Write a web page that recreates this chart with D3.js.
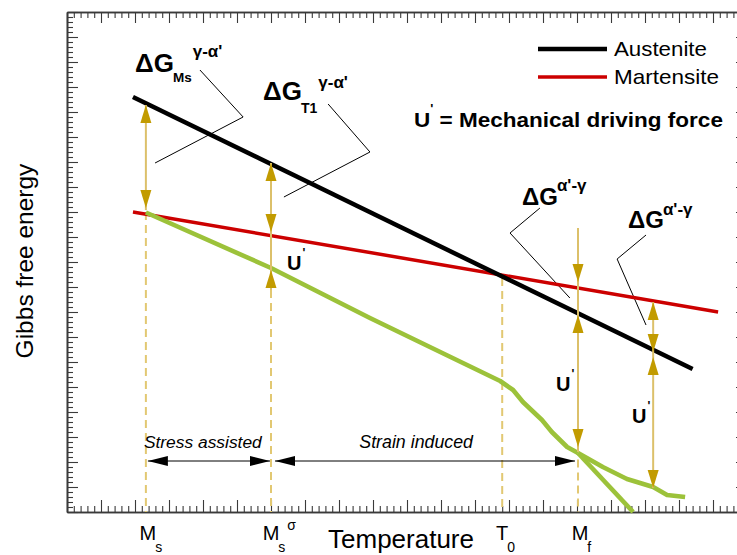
<!DOCTYPE html>
<html><head><meta charset="utf-8">
<script src="https://cdn.jsdelivr.net/npm/d3@7"></script>
<style>body{margin:0;background:#fff}svg{display:block;font-family:"Liberation Sans",Arial,Helvetica,sans-serif}</style>
</head><body><svg id="c" width="737" height="555"></svg>
<script>
// ---------- data (temperature units on x, energy units on y) ----------
const tempMarkers = [
  {main: "M", sub: "s", sup: "",  t: 2.32},
  {main: "M", sub: "s", sup: "σ", t: 6.0},
  {main: "T", sub: "0", sup: "",  t: 12.8},
  {main: "M", sub: "f", sup: "",  t: 15.03}
];
const dashTops = [12.0, 8.88, 9.36, 2.1];           // where each dashed marker starts
const austenite  = [[1.94, 16.6], [18.4, 5.72]];
const martensite = [[1.94, 12.0], [19.15, 8.0]];
const transformPath = [[2.32, 11.98], [6.0, 9.76], [8.91, 7.76], [12.74, 5.24], [13.12, 4.88],
                       [13.41, 4.4], [13.97, 3.68], [14.26, 3.2], [14.71, 2.6], [15.03, 2.36]];
const branchStraight = [[15.03, 2.36], [16.65, 0]];
const branchCurved   = [[15.03, 2.36], [15.76, 1.8], [16.47, 1.32], [17.24, 1.0], [17.65, 0.68], [18.18, 0.6]];
// gold driving-force arrows: x, shaft from/to, heads [tip, direction]
const goldArrows = [
  {t: 2.32,  from: 16.28, to: 12.08, heads: [[16.28, "up"], [12.16, "down"]]},
  {t: 6.0,   from: 13.96, to: 8.88,  heads: [[13.96, "up"], [11.2, "down"], [9.68, "up"]]},
  {t: 15.03, from: 11.36, to: 2.4,   heads: [[9.2, "down"], [7.88, "up"], [2.6, "down"]]},
  {t: 17.24, from: 8.4,   to: 0.96,  heads: [[8.4, "up"], [6.4, "down"], [6.2, "up"], [0.96, "down"]]}
];
const leaders = [
  [[3.91, 17.68], [5.18, 15.8], [2.59, 13.96]],
  [[7.68, 16.32], [8.91, 14.4], [6.38, 12.6]],
  [[13.91, 12.16], [13.03, 11.16], [14.79, 8.56]],
  [[17.03, 11.08], [16.18, 10.12], [17.03, 7.48]]
];
const rangeArrows = [
  {a: 2.32, b: 6.0,   label: "Stress assisted"},
  {a: 6.0,  b: 15.03, label: "Strain induced"}
];
const rangeLevel = 2.04;
const legendItems = [{name: "Austenite", color: "#000000"}, {name: "Martensite", color: "#cc0000"}];

// ---------- layout ----------
const svg = d3.select("#c");
const L = 67, R = 747, T = 12, B = 512;
const x = d3.scaleLinear().domain([0, 20]).range([L, R]);
const y = d3.scaleLinear().domain([0, 20]).range([B, T]);
const majors = d3.range(0, 21);
const minors = d3.range(0, 100).map(i => i / 5).filter(v => v % 1 !== 0);

const axisCol = "#3a3a3a";
function drawAxis(axisFn, scale, transform, majorLen, minorLen) {
  const gMin = svg.append("g").attr("transform", transform)
    .call(axisFn(scale).tickValues(minors).tickSize(-minorLen).tickSizeOuter(0).tickFormat(""));
  const gMaj = svg.append("g").attr("transform", transform)
    .call(axisFn(scale).tickValues(majors).tickSize(-majorLen).tickSizeOuter(0).tickFormat(""));
  [gMin, gMaj].forEach(g => {
    g.selectAll(".tick line").attr("stroke", axisCol).attr("stroke-width", 1.1);
    g.select(".domain").attr("stroke", axisCol).attr("stroke-width", 1.6);
  });
}
drawAxis(d3.axisBottom, x, `translate(0,${B})`, 12, 6);
drawAxis(d3.axisTop, x, `translate(0,${T})`, 11, 6);
drawAxis(d3.axisLeft, y, `translate(${L},0)`, 11, 6);
drawAxis(d3.axisRight, y, `translate(${R},0)`, 11, 6);

const line = d3.line().x(d => x(d[0])).y(d => y(d[1]));

// dashed markers
const dashCol = "#e2c872";
tempMarkers.forEach((m, i) => {
  svg.append("line").attr("x1", x(m.t)).attr("x2", x(m.t)).attr("y1", y(dashTops[i])).attr("y2", B)
    .attr("stroke", dashCol).attr("stroke-width", 2).attr("stroke-dasharray", "8,5");
});

// leader lines
leaders.forEach(pts => svg.append("path").attr("d", line(pts)).attr("fill", "none")
  .attr("stroke", "#000").attr("stroke-width", 1));

// curves
svg.append("path").attr("d", line(martensite)).attr("fill", "none").attr("stroke", "#cc0000").attr("stroke-width", 3.5);
svg.append("path").attr("d", line(austenite)).attr("fill", "none").attr("stroke", "#000").attr("stroke-width", 4.5);
[transformPath, branchStraight, branchCurved].forEach(p =>
  svg.append("path").attr("d", line(p)).attr("fill", "none").attr("stroke", "#9cc23a")
    .attr("stroke-width", 4.6).attr("stroke-linejoin", "round"));

// gold arrows
const headCol = "#c29b00", shaftCol = "#dcc06a";
goldArrows.forEach(a => {
  const xx = x(a.t);
  svg.append("line").attr("x1", xx).attr("x2", xx).attr("y1", y(a.from)).attr("y2", y(a.to))
    .attr("stroke", shaftCol).attr("stroke-width", 2);
  a.heads.forEach(([tip, dir]) => {
    const ty = y(tip), by = dir === "up" ? ty + 18 : ty - 18;
    svg.append("path").attr("d", `M${xx},${ty}L${xx - 5.5},${by}L${xx + 5.5},${by}Z`).attr("fill", headCol);
  });
});

// range arrows
const yr = y(rangeLevel);
rangeArrows.forEach((r, i) => {
  const x1 = x(r.a) + (i === 0 ? 2 : 4), x2 = x(r.b) - (i === 0 ? 1 : 3);
  svg.append("line").attr("x1", x1).attr("x2", x2).attr("y1", yr).attr("y2", yr).attr("stroke", "#000").attr("stroke-width", 1);
  svg.append("path").attr("d", `M${x1},${yr}L${x1 + 20},${yr - 5}L${x1 + 20},${yr + 5}Z`).attr("fill", "#000");
  svg.append("path").attr("d", `M${x2},${yr}L${x2 - 20},${yr - 5}L${x2 - 20},${yr + 5}Z`).attr("fill", "#000");
});
svg.append("text").attr("x", x(rangeArrows[0].a) - 2).attr("y", 448).attr("font-size", 17.4)
  .attr("font-style", "italic").text(rangeArrows[0].label);
svg.append("text").attr("x", 473).attr("y", 448).attr("font-size", 17.8).attr("text-anchor", "end")
  .attr("font-style", "italic").text(rangeArrows[1].label);

// helper: horizontal fit
function fitWidth(sel, x0, target) {
  const w = sel.node().getBBox().width;
  const k = target / w;
  sel.attr("transform", `translate(${x0},0) scale(${k},1) translate(${-x0},0)`);
}

// legend
legendItems.forEach((it, i) => {
  const ly = 49 + i * 28;
  svg.append("line").attr("x1", 538).attr("x2", 607).attr("y1", ly).attr("y2", ly)
    .attr("stroke", it.color).attr("stroke-width", i === 0 ? 4.5 : 3.5);
  const t = svg.append("text").attr("x", 614).attr("y", ly + 7.5).attr("font-size", 20).text(it.name);
  fitWidth(t, 614, i === 0 ? 93 : 105);
});

// U' definition
const ud = svg.append("text").attr("x", 414).attr("y", 127).attr("font-size", 21).attr("font-weight", "bold");
ud.append("tspan").text("U");
ud.append("tspan").attr("font-size", 12).attr("dy", -14).text("'");
ud.append("tspan").attr("dy", 14).text(" = Mechanical driving force");
fitWidth(ud, 414, 309);

// ΔG labels
function dG(x0, base, size, sub, sup, subSize, supSize, subDy, supDy) {
  const t = svg.append("text").attr("x", x0).attr("y", base).attr("font-size", size).attr("font-weight", "bold").text("ΔG");
  let w = t.node().getComputedTextLength();
  let cx = x0 + w - 1;
  if (sub) {
    const s = svg.append("text").attr("x", cx).attr("y", base + subDy).attr("font-size", subSize).attr("font-weight", "bold").text(sub);
    cx += s.node().getComputedTextLength() + 1;
  }
  svg.append("text").attr("x", cx).attr("y", base + supDy).attr("font-size", supSize).attr("font-weight", "bold").text(sup);
}
dG(135, 72, 26, "Ms", "γ-α'", 13.5, 17, 10, -15);
dG(263, 100, 26, "T1", "γ-α'", 14, 17, 13, -12);
dG(522, 205, 24, "", "α'-γ", 0, 17, 0, -14);
dG(628, 228, 24, "", "α'-γ", 0, 17, 0, -13);

// U' labels
[[287, 270, 20], [556, 391, 20], [632, 423, 20]].forEach(([ux, uy, us]) => {
  const t = svg.append("text").attr("x", ux).attr("y", uy).attr("font-size", us).attr("font-weight", "bold");
  t.append("tspan").text("U");
  t.append("tspan").attr("font-size", 12).attr("dy", -13).attr("dx", 1).text("'");
});

// temperature marker labels
tempMarkers.forEach(m => {
  const xx = x(m.t) + (m.main === "M" && m.t > 10 ? 2 : (m.t < 3 ? 2 : 0));
  const t = svg.append("text").attr("x", xx).attr("y", 540).attr("font-size", 20).attr("text-anchor", "middle").text(m.main);
  const w = t.node().getComputedTextLength();
  svg.append("text").attr("x", xx + w / 2 - 1).attr("y", 552).attr("font-size", 14).text(m.sub);
  if (m.sup) {
    svg.append("text").attr("x", xx + w / 2 + 8).attr("y", 530).attr("font-size", 14).text(m.sup);
  }
});

// axis titles
svg.append("text").attr("x", 401).attr("y", 548).attr("font-size", 26).attr("text-anchor", "middle").text("Temperature");
svg.append("text").attr("transform", "translate(33,261) rotate(-90)").attr("font-size", 24.5)
  .attr("text-anchor", "middle").text("Gibbs free energy");
</script></body></html>
